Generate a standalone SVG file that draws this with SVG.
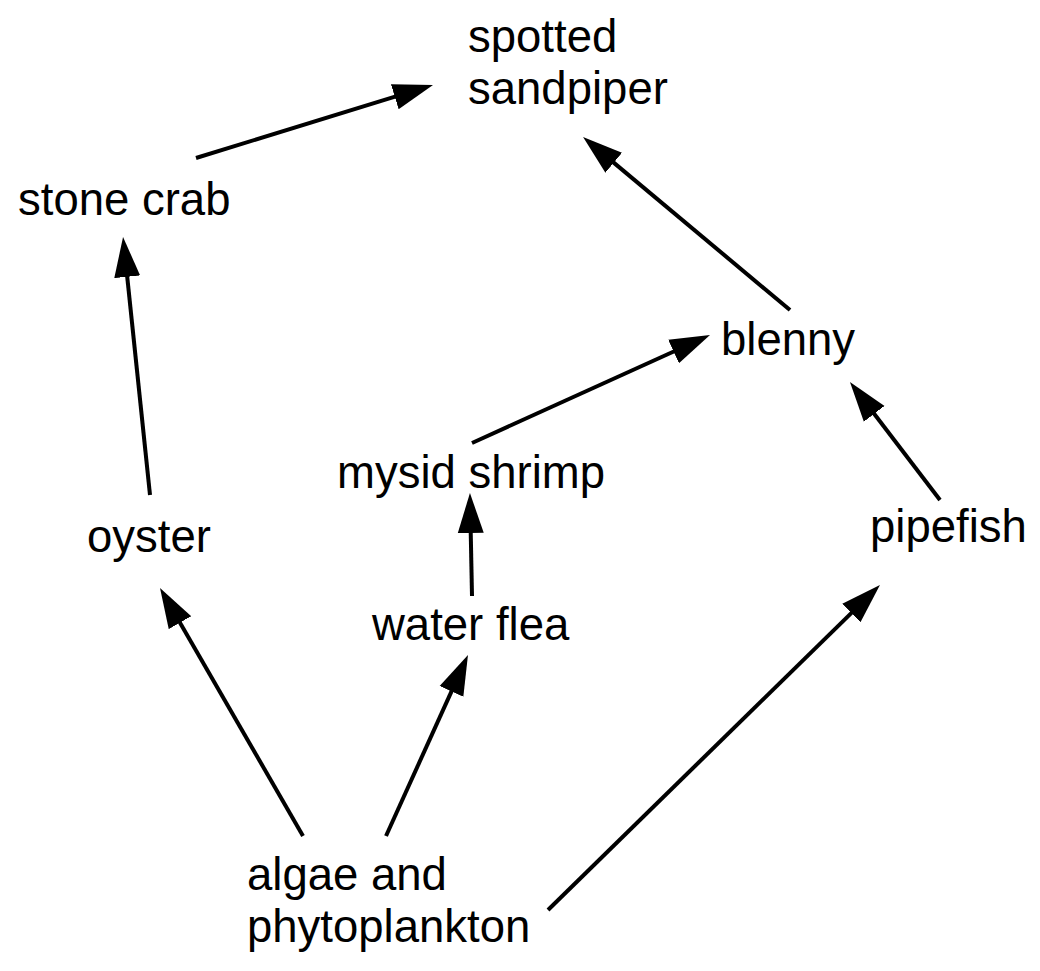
<svg xmlns="http://www.w3.org/2000/svg" width="1040" height="971" viewBox="0 0 1040 971">
<style>
text{font-family:"Liberation Sans",Arial,sans-serif;font-size:45.5px;fill:#000}
.e{stroke:#000;stroke-width:4;fill:none;marker-end:url(#ah)}
</style>
<defs>
<marker id="ah" markerUnits="userSpaceOnUse" viewBox="0 -14 42 28" refX="2" refY="0" markerWidth="42" markerHeight="28" orient="auto">
<path d="M0,-13 L40,0 L0,13 z" fill="#000"/>
</marker>
</defs>
<rect width="1040" height="971" fill="#fff"/>
<g id="connectors">
<line class="e" x1="196" y1="158" x2="396.7" y2="96.2"/>
<line class="e" x1="150" y1="495" x2="127" y2="274.8"/>
<line class="e" x1="790" y1="310" x2="612.2" y2="161.4"/>
<line class="e" x1="472" y1="443" x2="675.4" y2="350.7"/>
<line class="e" x1="940" y1="500" x2="873" y2="412.2"/>
<line class="e" x1="472" y1="596" x2="470.7" y2="531"/>
<line class="e" x1="303" y1="836" x2="179" y2="620.9"/>
<line class="e" x1="386" y1="836" x2="452.3" y2="689.6"/>
<line class="e" x1="548" y1="910" x2="852.8" y2="611.6"/>
</g>
<g id="sandpiper"><text x="468" y="52">spotted</text><text x="468" y="104">sandpiper</text></g>
<g id="stonecrab"><text x="18" y="215">stone crab</text></g>
<g id="blenny"><text x="721" y="355">blenny</text></g>
<g id="mysid"><text x="337" y="488">mysid shrimp</text></g>
<g id="oyster"><text x="87" y="552">oyster</text></g>
<g id="pipefish"><text x="870" y="542">pipefish</text></g>
<g id="waterflea"><text x="372" y="640">water flea</text></g>
<g id="algae"><text x="247" y="890">algae and</text><text x="247" y="942">phytoplankton</text></g>
</svg>
